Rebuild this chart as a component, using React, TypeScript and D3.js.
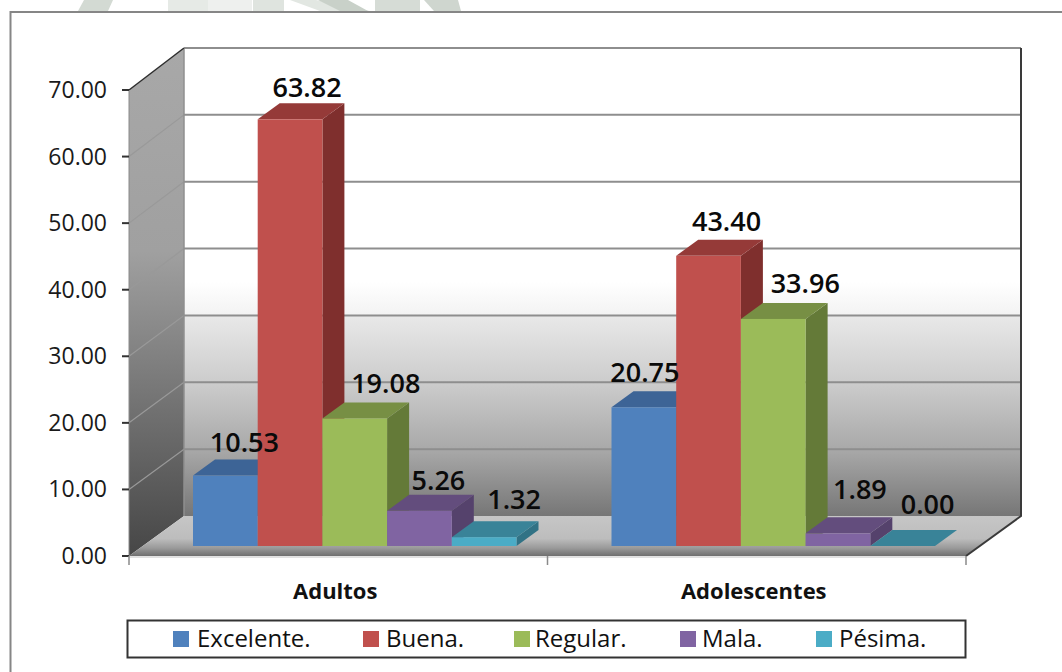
import React from "react";
import * as d3 from "d3";

// Survey results by age group, percentages per rating.
const categories = ["Adultos", "Adolescentes"];
const ratings = ["Excelente.", "Buena.", "Regular.", "Mala.", "Pésima."];
const adultos = [10.53, 63.82, 19.08, 5.26, 1.32];
const adolescentes = [20.75, 43.4, 33.96, 1.89, 0.0];
const yTicks = [0, 10, 20, 30, 40, 50, 60, 70];

const frontColors = ["#4f81bd", "#c0504d", "#9bbb59", "#8064a2", "#4bacc6"];
const topColors = ["#3d6496", "#953a38", "#778f44", "#634d7d", "#398398"];
const sideColors = ["#385d8a", "#7f2f2d", "#647a38", "#55426c", "#317285"];

const W = 1062;
const H = 672;
const FONT = "'Open Sans', 'Noto Sans', sans-serif";

// Oblique box geometry: front plane, rear plane and the bars' depth offset.
const frontY = d3.scaleLinear().domain([0, 70]).range([556, 90]);
const backY = d3.scaleLinear().domain([0, 70]).range([516, 48]);
const barY = d3.scaleLinear().domain([0, 70]).range([546, 78]);
const groupX = d3.scaleBand().domain(categories).range([129, 966]);
const barX = d3.scaleBand().domain(ratings).range([64, 387.5]);
const wallDx = 55;
const barDx = 22;
const barDy = 16;

// Hand placement of the value labels relative to each bar's top centre.
const labelShift = [
  [[19, -24], [17, -22], [31, -25], [19, -21], [30, -28]],
  [[1, -25], [18, -25], [32, -26], [22, -34], [25, -32]],
];

// Faint remains of the page's background crest above the frame.
const crest = [
  { pts: "84,0 113,0 108,11 78,11", fill: "#d3dad3" },
  { pts: "168,0 208,0 208,11 168,11", fill: "#e6eae6" },
  { pts: "208,0 252,0 252,11 208,11", fill: "#eef0ee" },
  { pts: "253,0 284,0 284,11 253,11", fill: "#dfe4df" },
  { pts: "290,0 316,0 370,11 340,11 320,11", fill: "#e2e7e2" },
  { pts: "318,0 348,0 368,11 340,11", fill: "#c9d1c9" },
  { pts: "375,0 420,0 420,11 375,11", fill: "#d6dcd6" },
  { pts: "424,0 458,0 461,11 434,11", fill: "#cfd6cf" },
];

const pts = (p: [number, number][]) => p.map((q) => q.join(",")).join(" ");

function Bar({ cat, i, value }: { cat: string; i: number; value: number }) {
  const name = ratings[i];
  const x0 = groupX(cat)! + barX(name)!;
  const x1 = x0 + barX.bandwidth();
  const yb = barY(0);
  const yt = barY(value);
  return (
    <g>
      {value > 0 && (
        <polygon
          points={pts([[x1, yb], [x1 + barDx, yb - barDy], [x1 + barDx, yt - barDy], [x1, yt]])}
          fill={sideColors[i]}
        />
      )}
      <polygon
        points={pts([[x0, yt], [x0 + barDx, yt - barDy], [x1 + barDx, yt - barDy], [x1, yt]])}
        fill={topColors[i]}
      />
      {value > 0 && <rect x={x0} y={yt} width={x1 - x0} height={yb - yt} fill={frontColors[i]} />}
    </g>
  );
}

export default function App() {
  const series = [adultos, adolescentes];
  const legendSwatch = [173, 363, 514, 680, 816];
  const legendText = [197, 386, 535, 702, 839];
  return (
    <svg
      width={W}
      height={H}
      viewBox={`0 0 ${W} ${H}`}
      style={{ position: "absolute", left: 0, top: 0, background: "#fff" }}
    >
      <defs>
        <linearGradient id="wall" gradientUnits="userSpaceOnUse" x1="0" y1="48" x2="0" y2="516">
          <stop offset="0" stopColor="#ffffff" />
          <stop offset="0.5" stopColor="#ffffff" />
          <stop offset="0.57" stopColor="#f3f3f3" />
          <stop offset="0.575" stopColor="#e8e8e8" />
          <stop offset="0.72" stopColor="#cbcbcb" />
          <stop offset="0.86" stopColor="#a8a8a8" />
          <stop offset="1" stopColor="#767676" />
        </linearGradient>
        <linearGradient id="side" gradientUnits="userSpaceOnUse" x1="0" y1="48" x2="0" y2="556">
          <stop offset="0" stopColor="#a8a8a8" />
          <stop offset="0.4" stopColor="#a0a0a0" />
          <stop offset="1" stopColor="#464646" />
        </linearGradient>
        <linearGradient id="floor" gradientUnits="userSpaceOnUse" x1="0" y1="516" x2="0" y2="557">
          <stop offset="0" stopColor="#c6c6c6" />
          <stop offset="0.55" stopColor="#bdbdbd" />
          <stop offset="0.78" stopColor="#9a9a9a" />
          <stop offset="1" stopColor="#6a6a6a" />
        </linearGradient>
      </defs>

      {crest.map((c) => (
        <polygon key={c.pts} points={c.pts} fill={c.fill} />
      ))}
      <path d={`M10.5 ${H + 2}V12H${W + 2}`} fill="none" stroke="#868686" strokeWidth={2} />

      {/* Back wall with its gridlines */}
      <rect
        x={129 + wallDx}
        y={backY(70)}
        width={1021 - 184}
        height={backY(0) - backY(70)}
        fill="url(#wall)"
      />
      {yTicks.slice(1).map((t) => (
        <line
          key={t}
          x1={184}
          x2={1021}
          y1={backY(t)}
          y2={backY(t)}
          stroke="#8e8e8e"
          strokeWidth={2}
        />
      ))}

      {/* Side wall */}
      <polygon
        points={pts([[129, frontY(70)], [184, backY(70)], [184, backY(0)], [129, frontY(0)]])}
        fill="url(#side)"
      />
      {yTicks.slice(1, -1).map((t) => (
        <line
          key={t}
          x1={129}
          x2={184}
          y1={frontY(t)}
          y2={backY(t)}
          stroke="#999999"
          strokeWidth={1.2}
        />
      ))}
      <line x1={184} x2={184} y1={48} y2={516} stroke="#8f8f8f" strokeWidth={1.5} />

      {/* Floor */}
      <polygon
        points={pts([[129, frontY(0)], [184, backY(0)], [1021, backY(0)], [966, frontY(0)]])}
        fill="url(#floor)"
      />

      {/* Box outline */}
      <path d={`M129 ${frontY(70)}L184 ${backY(70)}`} stroke="#2e2e2e" strokeWidth={1.5} fill="none" />
      <path
        d={`M1021 ${backY(70)}V${backY(0)}L966 ${frontY(0)}`}
        stroke="#3a3a3a"
        strokeWidth={2}
        fill="none"
      />
      <line x1={129} x2={129} y1={frontY(70)} y2={frontY(0)} stroke="#8a8a8a" strokeWidth={1} />
      <line x1={129} x2={966} y1={frontY(0) + 1} y2={frontY(0) + 1} stroke="#c4c4c4" strokeWidth={1} />

      {/* Bars */}
      {categories.map((cat, c) => (
        <g key={cat}>
          {series[c].map((v, i) => (
            <Bar key={ratings[i]} cat={cat} i={i} value={v} />
          ))}
        </g>
      ))}

      {/* Value axis */}
      {yTicks.map((t) => (
        <g key={t}>
          <line x1={122} x2={129} y1={frontY(t)} y2={frontY(t)} stroke="#333" strokeWidth={2} />
          <text
            x={107}
            y={frontY(t) + 8}
            textAnchor="end"
            fontFamily={FONT}
            fontSize={23}
            fill="#1a1a1a"
          >
            {t.toFixed(2)}
          </text>
        </g>
      ))}

      {/* Category axis */}
      {[129, groupX("Adolescentes")!, 966].map((x) => (
        <line key={x} x1={x} x2={x} y1={frontY(0)} y2={frontY(0) + 9} stroke="#8a8a8a" strokeWidth={1.5} />
      ))}
      {categories.map((cat) => (
        <text
          key={cat}
          x={groupX(cat)! + groupX.bandwidth() / 2 - 3}
          y={599}
          textAnchor="middle"
          fontFamily={FONT}
          fontSize={22}
          fontWeight={700}
          fill="#111"
        >
          {cat}
        </text>
      ))}

      {/* Value labels */}
      {categories.map((cat, c) =>
        series[c].map((v, i) => (
          <text
            key={`${cat}-${i}`}
            x={groupX(cat)! + barX(ratings[i])! + barX.bandwidth() / 2 + labelShift[c][i][0]}
            y={barY(v) + labelShift[c][i][1]}
            textAnchor="middle"
            fontFamily={FONT}
            fontSize={27}
            fontWeight={600}
            fill="#0a0a0a"
          >
            {v.toFixed(2)}
          </text>
        ))
      )}

      {/* Legend */}
      <rect x={127.5} y={620.5} width={838} height={37} fill="#fff" stroke="#333" strokeWidth={2} />
      {ratings.map((r, i) => (
        <g key={r}>
          <rect x={legendSwatch[i]} y={631} width={16} height={16} fill={frontColors[i]} />
          <text x={legendText[i]} y={647} fontFamily={FONT} fontSize={24} fill="#111">
            {r}
          </text>
        </g>
      ))}
    </svg>
  );
}
